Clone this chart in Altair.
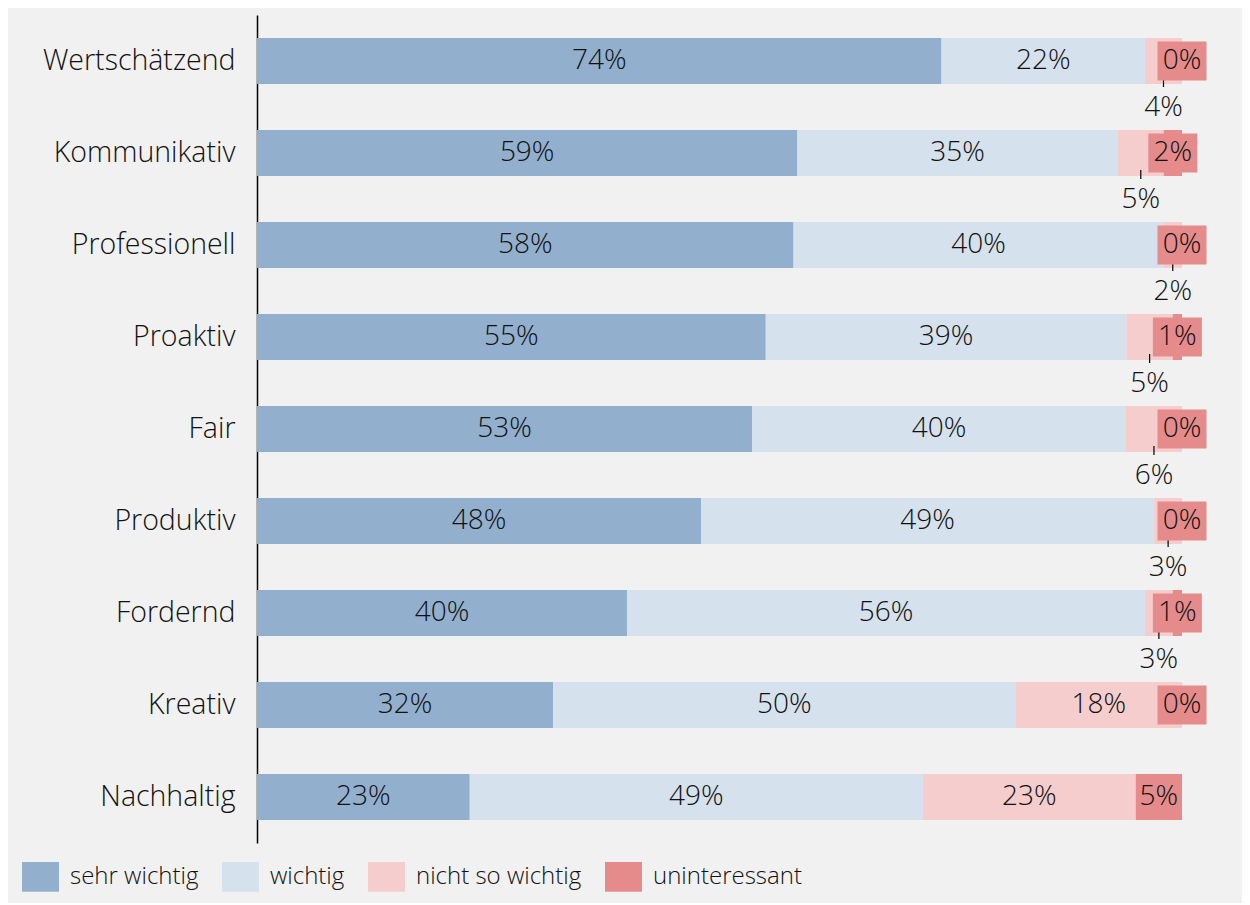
import altair as alt
import pandas as pd

cats = ["Wertschätzend", "Kommunikativ", "Professionell", "Proaktiv\u00a0", "Fair",
        "Produktiv", "Fordernd", "Kreativ", "Nachhaltig"]
levels = ["sehr wichtig", "wichtig", "nicht so wichtig", "uninteressant"]
sehr = [74, 59, 58, 55, 53, 48, 40, 32, 23]
wichtig = [22, 35, 40, 39, 40, 49, 56, 50, 49]
nicht = [4, 5, 2, 5, 6, 3, 3, 18, 23]
unint = [0, 2, 0, 1, 0, 0, 1, 0, 5]
colors = ["#92b0ce", "#d5e1ec", "#f6cdcd", "#e58b8b"]

rows = []
for i, c in enumerate(cats):
    for j, (lv, arr) in enumerate(zip(levels, [sehr, wichtig, nicht, unint])):
        rows.append({"cat": c, "level": lv, "lorder": j, "value": arr[i]})
df = pd.DataFrame(rows)

FONT = "Open Sans"
TXT = "#111111"
FW = 300

base = alt.Chart(df).transform_stack(
    stack="value", groupby=["cat"], as_=["v0", "v1"], offset="normalize",
    sort=[alt.SortField("lorder", order="ascending")]
).transform_calculate(
    mid="(datum.v0 + datum.v1) / 2",
    label="datum.value + '%'"
)

yenc = alt.Y("cat:N", sort=cats, title=None,
             scale=alt.Scale(paddingInner=0.5, paddingOuter=0.25),
             axis=alt.Axis(labelFont=FONT, labelFontSize=28.5, labelColor=TXT,
                           labelPadding=22, ticks=False, domainColor="#000000",
                           domainWidth=1.5, labelFontWeight=FW, labelLimit=400))
xscale = alt.Scale(domain=[0, 1], nice=False, zero=True)

bars = base.mark_bar().encode(
    x=alt.X("v0:Q", scale=xscale, axis=None),
    x2="v1:Q",
    y=yenc,
    color=alt.Color("level:N", sort=levels,
                    scale=alt.Scale(domain=levels, range=colors),
                    legend=alt.Legend(title=None, orient="none", direction="horizontal",
                                      legendX=-235, legendY=843,
                                      symbolType="M-1,-0.8H1V0.8H-1Z", symbolSize=1369,
                                      symbolStrokeWidth=0, symbolOpacity=1,
                                      labelFont=FONT, labelFontSize=24, labelColor=TXT,
                                      labelFontWeight=FW, labelLimit=400,
                                      labelOffset=11, columnPadding=23)),
)

inside = base.transform_filter(
    "datum.lorder < 2 || (datum.lorder == 2 && datum.value >= 10) || (datum.lorder == 3 && datum.value >= 5)"
).mark_text(font=FONT, fontSize=28, fontWeight=FW, color=TXT).encode(
    x=alt.X("mid:Q", scale=xscale), y=alt.Y("cat:N", sort=cats), text="label:N"
)

small = base.transform_filter("datum.lorder == 2 && datum.value < 10")

leader = small.mark_rule(color="#000000", strokeWidth=1.2, yOffset=17, y2Offset=26).encode(
    x=alt.X("mid:Q", scale=xscale), y=alt.Y("cat:N", sort=cats), y2="cat:N"
)
below = small.mark_text(font=FONT, fontSize=28, fontWeight=FW, color=TXT, dy=47).encode(
    x=alt.X("mid:Q", scale=xscale), y=alt.Y("cat:N", sort=cats), text="label:N"
)

tiny = base.transform_filter("datum.lorder == 3 && datum.value < 5")
box = tiny.mark_rect(width=49, height=39, color="#e58b8b").encode(
    x=alt.X("mid:Q", scale=xscale), y=alt.Y("cat:N", sort=cats)
)
boxtext = tiny.mark_text(font=FONT, fontSize=28, fontWeight=FW, color=TXT).encode(
    x=alt.X("mid:Q", scale=xscale), y=alt.Y("cat:N", sort=cats), text="label:N"
)

chart = alt.layer(bars, inside, leader, below, box, boxtext).properties(
    width=925, height=828,
    background="#f1f1f1",
    padding={"left": 249, "top": 7, "right": 60, "bottom": 60},
    autosize=alt.AutoSizeParams(type="none"),
).configure_view(stroke=None)

chart.save("out.html", embed_options={"renderer": "svg", "actions": False})
